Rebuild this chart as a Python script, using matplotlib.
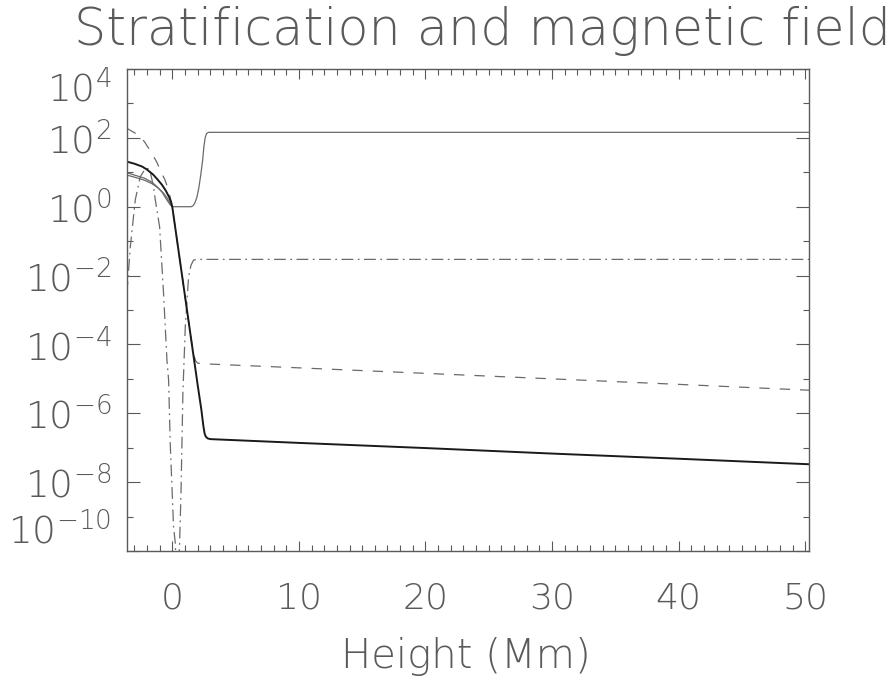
import numpy as np
import matplotlib
matplotlib.use("Agg")
import matplotlib.pyplot as plt
from matplotlib.ticker import FixedLocator, NullFormatter

plt.rcParams['font.family'] = ['DejaVu Sans']
plt.rcParams['font.weight'] = 'light'
plt.rcParams['mathtext.fontset'] = 'custom'
plt.rcParams['mathtext.rm'] = 'DejaVu Sans:light'
plt.rcParams['mathtext.default'] = 'regular'

GREY = '#5a5a5a'

# height (Mm) and log10 of the normalised quantities
temp_h = [-3.6, -3.0, -2.2, -1.6, -1.2, -0.8, -0.4, -0.15, 0.0, 0.5, 1.0, 1.5,
          1.65, 1.8, 1.95, 2.1, 2.25, 2.4, 2.5, 2.6, 2.7, 2.85, 10, 20, 30, 40, 50.3]
temp_log = [0.99, 0.92, 0.83, 0.71, 0.58, 0.42, 0.18, 0.05, 0.0, 0.0, 0.0, 0.0,
            0.03, 0.12, 0.28, 0.55, 0.92, 1.35, 1.75, 2.0, 2.12, 2.16, 2.16, 2.16, 2.16, 2.16, 2.16]

dens_h = [-3.6, -3.0, -2.4, -2.0, -1.5, -1.16, -0.8, -0.5, -0.25, -0.1, 0.0, 0.5, 1.0,
          1.5, 2.0, 2.3, 2.45, 2.55, 2.65, 2.8, 3.0, 10, 20, 30, 40, 50.3]
dens_log = [1.31, 1.25, 1.17, 1.08, 0.93, 0.79, 0.63, 0.46, 0.28, 0.14, 0.0, -1.29, -2.58,
            -3.87, -5.16, -5.9, -6.35, -6.58, -6.68, -6.73, -6.75, -6.86, -7.01, -7.17, -7.32, -7.48]

pres_h = [-3.6, -2.9, -2.2, -1.7, -1.2, -0.9, -0.6, -0.35, -0.15, 0.0, 0.5, 1.0, 1.5,
          1.7, 1.85, 2.0, 2.3, 10, 20, 30, 40, 50.3]
pres_log = [2.28, 2.13, 1.89, 1.6, 1.28, 1.02, 0.8, 0.55, 0.25, 0.0, -1.29, -2.58, -3.87,
            -4.3, -4.48, -4.54, -4.56, -4.68, -4.84, -5.0, -5.16, -5.33]

field_h = [-3.6, -3.0, -2.2, -1.6, -1.1, -0.7, -0.4, -0.2, 0.0]
field_log = [0.92, 0.86, 0.77, 0.67, 0.54, 0.4, 0.25, 0.12, 0.0]

beta_h = [-3.58, -3.31, -2.92, -2.53, -2.1, -1.9, -1.7, -1.48, -1.34, -1.0, -0.69, -0.42,
          -0.29, -0.16, 0.1, 0.24, 0.4, 0.58, 0.69, 0.84, 1.03, 1.29, 1.48, 1.68, 1.95,
          10, 20, 30, 40, 50.3]
beta_log = [-2.51, -1.15, 0.2, 0.87, 1.12, 1.1, 0.95, 0.58, 0.2, -0.58, -2.51, -4.45,
            -5.03, -6.87, -9.29, -9.77, -11.5, -9.77, -8.32, -5.42, -3.48, -2.03, -1.7, -1.55, -1.53,
            -1.53, -1.53, -1.53, -1.53, -1.53]

x_major = [0, 10, 20, 30, 40, 50]
y_major = [1e4, 1e2, 1e0, 1e-2, 1e-4, 1e-6, 1e-8, 1e-10]
y_labels = [r'$10^{4}$', r'$10^{2}$', r'$10^{0}$', r'$10^{-2}$', r'$10^{-4}$',
            r'$10^{-6}$', r'$10^{-8}$', r'$10^{-10}$']
y_minor = [1e3, 1e1, 1e-1, 1e-3, 1e-5, 1e-7, 1e-9]

fig = plt.figure(figsize=(8.94, 6.79), dpi=100)
ax = fig.add_axes([0.1417, 0.1885, 0.7633, 0.7099])

ax.plot(temp_h, 10 ** np.array(temp_log), color='#6a6a6a', lw=0.9)
ax.plot(field_h, 10 ** np.array(field_log), color='#6a6a6a', lw=0.9)
ax.plot(pres_h, 10 ** np.array(pres_log), color='#6a6a6a', lw=0.9, dashes=(8.3, 8.0))
ax.plot(beta_h, 10 ** np.array(beta_log), color='#6a6a6a', lw=0.9, dashes=(9.4, 3.6, 1.4, 3.6))
ax.plot(dens_h, 10 ** np.array(dens_log), color='#1a1a1a', lw=1.4)

ax.set_yscale('log')
ax.set_xlim(-3.6, 50.3)
ax.set_ylim(1e-10, 1e4)

ax.xaxis.set_major_locator(FixedLocator(x_major))
ax.xaxis.set_minor_locator(FixedLocator(range(-3, 51)))
ax.yaxis.set_major_locator(FixedLocator(y_major))
ax.yaxis.set_minor_locator(FixedLocator(y_minor))
ax.yaxis.set_minor_formatter(NullFormatter())
ax.set_yticklabels(y_labels)

ax.tick_params(axis='both', which='both', direction='in', top=True, right=True,
               colors=GREY, width=0.8)
ax.tick_params(axis='x', which='major', length=7.2, labelsize=26, pad=22)
ax.tick_params(axis='x', which='minor', length=4)
ax.tick_params(axis='y', which='major', length=9.6, labelsize=27, pad=11)
ax.tick_params(axis='y', which='minor', length=4.3)
for lab in ax.get_xticklabels() + ax.get_yticklabels():
    lab.set_color(GREY)

yt = ax.yaxis.get_major_ticks()
yt[0].label1.set_verticalalignment('top')
yt[-1].label1.set_verticalalignment('bottom')

for s in ax.spines.values():
    s.set_color(GREY)
    s.set_linewidth(1.0)

fig.text(482 / 894, 1 - 45 / 679, 'Stratification and magnetic field',
         ha='center', va='baseline', fontsize=36.5, color=GREY)
fig.text(466 / 894, 1 - 668 / 679, 'Height (Mm)',
         ha='center', va='baseline', fontsize=29, color=GREY)

fig.savefig('out.png', dpi=100)
